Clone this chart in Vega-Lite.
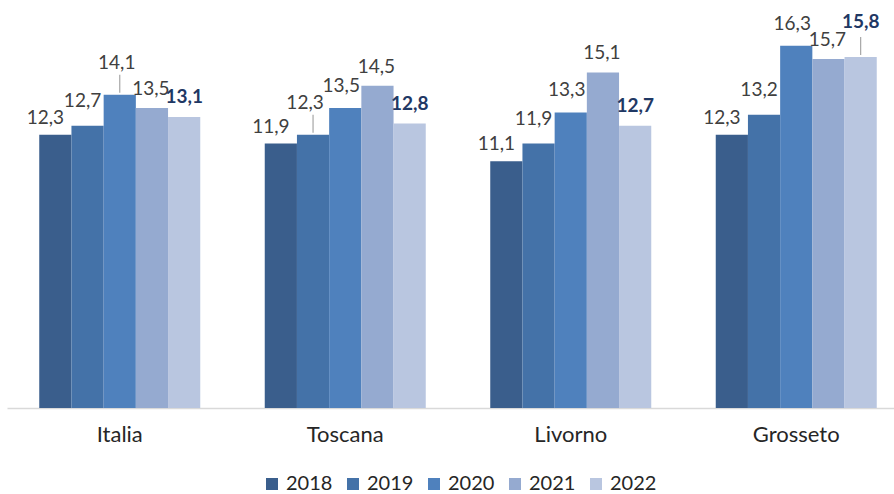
{
  "$schema": "https://vega.github.io/schema/vega-lite/v6.json",
  "width": 902,
  "height": 400,
  "autosize": {"type": "none"},
  "padding": {"left": 7, "top": 8, "right": 0, "bottom": 86},
  "background": "white",
  "config": {
    "view": {"stroke": null},
    "font": "Lato",
    "locale": {"number": {"decimal": ",", "thousands": ".", "grouping": [3], "currency": ["", " €"]}}
  },
  "data": {
    "values": [
      {"region": "Italia", "year": "2018", "value": 12.3},
      {"region": "Italia", "year": "2019", "value": 12.7},
      {"region": "Italia", "year": "2020", "value": 14.1},
      {"region": "Italia", "year": "2021", "value": 13.5},
      {"region": "Italia", "year": "2022", "value": 13.1},
      {"region": "Toscana", "year": "2018", "value": 11.9},
      {"region": "Toscana", "year": "2019", "value": 12.3},
      {"region": "Toscana", "year": "2020", "value": 13.5},
      {"region": "Toscana", "year": "2021", "value": 14.5},
      {"region": "Toscana", "year": "2022", "value": 12.8},
      {"region": "Livorno", "year": "2018", "value": 11.1},
      {"region": "Livorno", "year": "2019", "value": 11.9},
      {"region": "Livorno", "year": "2020", "value": 13.3},
      {"region": "Livorno", "year": "2021", "value": 15.1},
      {"region": "Livorno", "year": "2022", "value": 12.7},
      {"region": "Grosseto", "year": "2018", "value": 12.3},
      {"region": "Grosseto", "year": "2019", "value": 13.2},
      {"region": "Grosseto", "year": "2020", "value": 16.3},
      {"region": "Grosseto", "year": "2021", "value": 15.7},
      {"region": "Grosseto", "year": "2022", "value": 15.8}
    ]
  },
  "encoding": {
    "x": {
      "field": "region", "type": "nominal",
      "sort": ["Italia", "Toscana", "Livorno", "Grosseto"],
      "scale": {"paddingInner": 0.286, "paddingOuter": 0.143},
      "axis": {"title": null, "labelAngle": 0, "ticks": false, "domainColor": "#D9D9D9", "domainWidth": 1.5, "labelFontSize": 22, "labelColor": "#262626", "labelPadding": 16}
    },
    "xOffset": {"field": "year", "type": "nominal", "scale": {"paddingInner": 0, "paddingOuter": 0}},
    "y": {"field": "value", "type": "quantitative", "scale": {"domain": [0, 18]}, "axis": null}
  },
  "layer": [
    {
      "mark": {"type": "bar"},
      "encoding": {
        "color": {
          "field": "year", "type": "nominal",
          "scale": {"range": ["#3A5E8C", "#4472A8", "#4F81BD", "#95AAD0", "#B9C6E0"]},
          "legend": {"title": null, "orient": "none", "direction": "horizontal", "legendX": 255, "legendY": 466, "padding": 0, "symbolType": "square", "symbolSize": 144, "symbolStrokeWidth": 0, "labelFontSize": 20, "labelColor": "#262626", "labelOffset": 4, "columnPadding": 10}
        }
      }
    },
    {
      "transform": [{"filter": "(datum.region == 'Italia' && datum.year == '2020') || (datum.region == 'Toscana' && datum.year == '2019') || (datum.region == 'Grosseto' && datum.year == '2022')"}],
      "mark": {"type": "rule", "color": "#A6A6A6", "strokeWidth": 1.2, "yOffset": -2, "y2Offset": -20},
      "encoding": {"y2": {"field": "value"}}
    },
    {
      "transform": [{"filter": "datum.year == '2018'"}],
      "mark": {"type": "text", "dx": -10, "dy": -17, "fontSize": 19, "color": "#404040"},
      "encoding": {"text": {"field": "value", "type": "quantitative", "format": ".1f"}}
    },
    {
      "transform": [{"filter": "datum.year == '2019' && datum.region != 'Toscana'"}],
      "mark": {"type": "text", "dx": -5, "dy": -25, "fontSize": 19, "color": "#404040"},
      "encoding": {"text": {"field": "value", "type": "quantitative", "format": ".1f"}}
    },
    {
      "transform": [{"filter": "datum.year == '2019' && datum.region == 'Toscana'"}],
      "mark": {"type": "text", "dx": -8, "dy": -32, "fontSize": 19, "color": "#404040"},
      "encoding": {"text": {"field": "value", "type": "quantitative", "format": ".1f"}}
    },
    {
      "transform": [{"filter": "datum.year == '2020' && datum.region != 'Italia'"}],
      "mark": {"type": "text", "dx": -4, "dy": -22, "fontSize": 19, "color": "#404040"},
      "encoding": {"text": {"field": "value", "type": "quantitative", "format": ".1f"}}
    },
    {
      "transform": [{"filter": "datum.year == '2020' && datum.region == 'Italia'"}],
      "mark": {"type": "text", "dx": -3, "dy": -32, "fontSize": 19, "color": "#404040"},
      "encoding": {"text": {"field": "value", "type": "quantitative", "format": ".1f"}}
    },
    {
      "transform": [{"filter": "datum.year == '2021'"}],
      "mark": {"type": "text", "dx": -1, "dy": -19, "fontSize": 19, "color": "#404040"},
      "encoding": {"text": {"field": "value", "type": "quantitative", "format": ".1f"}}
    },
    {
      "transform": [{"filter": "datum.year == '2022' && datum.region != 'Grosseto'"}],
      "mark": {"type": "text", "dy": -20, "fontSize": 19, "fontWeight": "bold", "color": "#1F3864"},
      "encoding": {"text": {"field": "value", "type": "quantitative", "format": ".1f"}}
    },
    {
      "transform": [{"filter": "datum.year == '2022' && datum.region == 'Grosseto'"}],
      "mark": {"type": "text", "dy": -35, "fontSize": 19, "fontWeight": "bold", "color": "#1F3864"},
      "encoding": {"text": {"field": "value", "type": "quantitative", "format": ".1f"}}
    }
  ]
}
